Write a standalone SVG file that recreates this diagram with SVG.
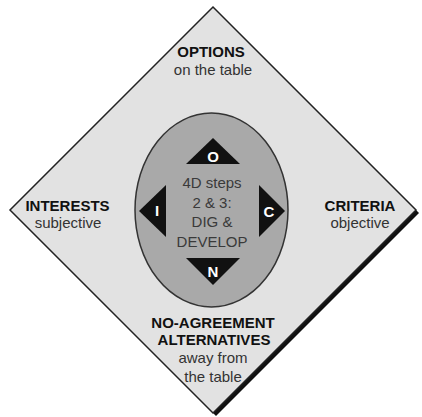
<svg xmlns="http://www.w3.org/2000/svg" width="422" height="417" viewBox="0 0 422 417">
  <style>
    .head { font-family: "Liberation Sans", Arial, sans-serif; font-weight: bold; font-size: 15px; fill: #111; text-anchor: middle; }
    .sub { font-family: "Liberation Sans", Arial, sans-serif; font-size: 15px; fill: #333; text-anchor: middle; }
    .core { font-family: "Liberation Sans", Arial, sans-serif; font-size: 15px; fill: #3a3a3a; text-anchor: middle; }
    .tri { fill: #111; }
    .letter { font-family: "Liberation Sans", Arial, sans-serif; font-weight: bold; font-size: 15px; fill: #fff; text-anchor: middle; }
  </style>
  <rect width="422" height="417" fill="#fff"/>

  <!-- outer diamond with drop shadow -->
  <g id="diamond">
    <polygon points="216,10 419,213 216,416 13,213" fill="#111"/>
    <polygon points="213,7 416,210 213,413 10,210" fill="#e2e2e2" stroke="#222" stroke-width="1.5"/>
  </g>

  <!-- central oval -->
  <g id="core">
    <ellipse cx="211.5" cy="210" rx="76.5" ry="97" fill="#a9a9a9" stroke="#333" stroke-width="1.5"/>
    <text class="core" x="212" y="188">4D steps</text>
    <text class="core" x="212" y="207.5">2 &amp; 3:</text>
    <text class="core" x="212" y="227">DIG &amp;</text>
    <text class="core" x="212" y="246.5">DEVELOP</text>
  </g>

  <!-- direction markers -->
  <g id="marker-o">
    <polygon class="tri" points="213,138 240,164 186,164"/>
    <text class="letter" x="213" y="161.5">O</text>
  </g>
  <g id="marker-n">
    <polygon class="tri" points="186,258 240,258 213,285"/>
    <text class="letter" x="213" y="277">N</text>
  </g>
  <g id="marker-i">
    <polygon class="tri" points="139,211 166,185 166,237"/>
    <text class="letter" x="157" y="216">I</text>
  </g>
  <g id="marker-c">
    <polygon class="tri" points="259,185 259,237 285,211"/>
    <text class="letter" x="269" y="216.5">C</text>
  </g>

  <!-- corner labels -->
  <g id="options">
    <text class="head" x="211" y="57">OPTIONS</text>
    <text class="sub" x="213" y="75">on the table</text>
  </g>
  <g id="interests">
    <text class="head" x="67.5" y="211">INTERESTS</text>
    <text class="sub" x="68" y="228">subjective</text>
  </g>
  <g id="criteria">
    <text class="head" x="360" y="211">CRITERIA</text>
    <text class="sub" x="360" y="228">objective</text>
  </g>
  <g id="alternatives">
    <text class="head" x="213" y="328">NO-AGREEMENT</text>
    <text class="head" x="214" y="345">ALTERNATIVES</text>
    <text class="sub" x="213" y="363">away from</text>
    <text class="sub" x="213" y="382">the table</text>
  </g>

  <g id="connectors"></g>
</svg>
